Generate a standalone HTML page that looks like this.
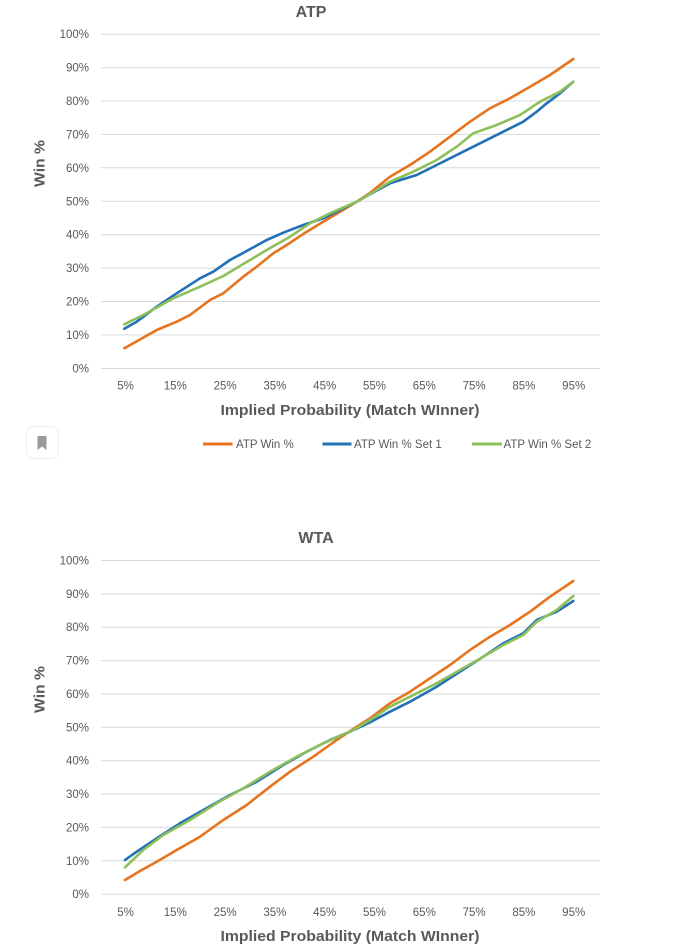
<!DOCTYPE html>
<html>
<head>
<meta charset="utf-8">
<style>
  html,body{margin:0;padding:0;background:#fff;}
  svg{display:block;}
  text{font-family:"Liberation Sans",sans-serif;fill:#595959;}
  .yl{font-size:11.5px;text-anchor:end;}
  .xl{font-size:11.5px;text-anchor:middle;}
  .tt{font-size:16px;font-weight:bold;text-anchor:middle;}
  .at{font-size:15px;font-weight:bold;text-anchor:middle;}
  .lg{font-size:11.5px;}
  .g{stroke:#d9d9d9;stroke-width:1;}
  .s{fill:none;stroke-width:2.6;stroke-linejoin:round;stroke-linecap:round;}
  .o{stroke:#e8731f;}
  .b{stroke:#2270b8;}
  .gr{stroke:#8dc05a;}
</style>
</head>
<body>
<svg width="676" height="952" viewBox="0 0 676 952" xmlns="http://www.w3.org/2000/svg">
  <!-- ===== ATP chart ===== -->
  <text class="tt" x="311" y="17">ATP</text>
  <g>
    <line class="g" x1="101" y1="34.2" x2="600" y2="34.2"/>
    <line class="g" x1="101" y1="67.6" x2="600" y2="67.6"/>
    <line class="g" x1="101" y1="101.0" x2="600" y2="101.0"/>
    <line class="g" x1="101" y1="134.4" x2="600" y2="134.4"/>
    <line class="g" x1="101" y1="167.8" x2="600" y2="167.8"/>
    <line class="g" x1="101" y1="201.3" x2="600" y2="201.3"/>
    <line class="g" x1="101" y1="234.7" x2="600" y2="234.7"/>
    <line class="g" x1="101" y1="268.1" x2="600" y2="268.1"/>
    <line class="g" x1="101" y1="301.5" x2="600" y2="301.5"/>
    <line class="g" x1="101" y1="334.9" x2="600" y2="334.9"/>
    <line class="g" x1="101" y1="368.5" x2="600" y2="368.5"/>
  </g>
  <g>
    <text class="yl" x="89" y="38.2">100%</text>
    <text class="yl" x="89" y="71.6">90%</text>
    <text class="yl" x="89" y="105.0">80%</text>
    <text class="yl" x="89" y="138.4">70%</text>
    <text class="yl" x="89" y="171.8">60%</text>
    <text class="yl" x="89" y="205.3">50%</text>
    <text class="yl" x="89" y="238.7">40%</text>
    <text class="yl" x="89" y="272.1">30%</text>
    <text class="yl" x="89" y="305.5">20%</text>
    <text class="yl" x="89" y="338.9">10%</text>
    <text class="yl" x="89" y="372.5">0%</text>
  </g>
  <g>
    <text class="xl" x="125.5" y="389.5">5%</text>
    <text class="xl" x="175.3" y="389.5">15%</text>
    <text class="xl" x="225.1" y="389.5">25%</text>
    <text class="xl" x="274.9" y="389.5">35%</text>
    <text class="xl" x="324.7" y="389.5">45%</text>
    <text class="xl" x="374.5" y="389.5">55%</text>
    <text class="xl" x="424.3" y="389.5">65%</text>
    <text class="xl" x="474.1" y="389.5">75%</text>
    <text class="xl" x="523.9" y="389.5">85%</text>
    <text class="xl" x="573.7" y="389.5">95%</text>
  </g>
  <text class="at" x="350" y="415" textLength="259" lengthAdjust="spacingAndGlyphs">Implied Probability (Match WInner)</text>
  <text class="at" transform="translate(44.5,163.5) rotate(-90)" x="0" y="0" textLength="47" lengthAdjust="spacingAndGlyphs">Win %</text>

  <polyline class="s o" points="124.3,348.3 140,339.5 156.7,330 176.7,321.7 190,315 210,300 223.3,293.3 243.3,276.7 256.7,266.7 273.3,253.3 286.7,245 306.7,231.7 323.3,221.7 340,211.7 356.7,201.7 370,193 390,176.7 410,165 430,151.7 450,136.7 470,121.7 490,108.3 510,98.3 530,86.7 550,75 573.3,59"/>
  <polyline class="s b" points="124.3,328.7 136.7,321.7 156.7,306.7 176.7,293.3 200,278.3 213.3,271.7 230,260 246.7,251 266.7,240 283.3,232.7 303.3,225 323.3,218.3 343.3,208.3 356.7,201.7 370,194.3 390,183.3 416.7,175 436.7,165 460,153.3 483.3,141.7 503.3,131.7 523.3,121.7 536.7,111.7 546.7,103.3 560,93.3 573.3,81.7"/>
  <polyline class="s gr" points="124.3,324.3 143.3,315 173.3,298.3 200,286.7 223.3,276 243.3,264 266.7,250 290,236.7 310,223.3 330,213.3 356.7,201.7 370,194 390,181.7 413.3,171.7 436.7,160 456.7,146.7 473.3,133.3 496.7,125 520,115 540,101.7 560,91.7 573.3,81.7"/>

  <!-- legend -->
  <line x1="203" y1="444" x2="232.5" y2="444" stroke="#e8731f" stroke-width="3"/>
  <text class="lg" x="236" y="448">ATP Win %</text>
  <line x1="322.5" y1="444" x2="351.5" y2="444" stroke="#2270b8" stroke-width="3"/>
  <text class="lg" x="354" y="448">ATP Win % Set 1</text>
  <line x1="472" y1="444" x2="502" y2="444" stroke="#8dc05a" stroke-width="3"/>
  <text class="lg" x="503.5" y="448">ATP Win % Set 2</text>

  <!-- bookmark button -->
  <rect x="26.5" y="426.5" width="32" height="32" rx="7" ry="7" fill="#fff" stroke="#ececec" stroke-width="1"/>
  <path d="M37.5,436 L46.5,436 L46.5,450 L42,446.5 L37.5,450 Z" fill="#9b9b9b"/>

  <!-- ===== WTA chart ===== -->
  <text class="tt" x="316" y="543">WTA</text>
  <g>
    <line class="g" x1="101" y1="560.5" x2="600" y2="560.5"/>
    <line class="g" x1="101" y1="593.9" x2="600" y2="593.9"/>
    <line class="g" x1="101" y1="627.2" x2="600" y2="627.2"/>
    <line class="g" x1="101" y1="660.6" x2="600" y2="660.6"/>
    <line class="g" x1="101" y1="694.0" x2="600" y2="694.0"/>
    <line class="g" x1="101" y1="727.3" x2="600" y2="727.3"/>
    <line class="g" x1="101" y1="760.7" x2="600" y2="760.7"/>
    <line class="g" x1="101" y1="794.1" x2="600" y2="794.1"/>
    <line class="g" x1="101" y1="827.4" x2="600" y2="827.4"/>
    <line class="g" x1="101" y1="860.8" x2="600" y2="860.8"/>
    <line class="g" x1="101" y1="894.2" x2="600" y2="894.2"/>
  </g>
  <g>
    <text class="yl" x="89" y="564.5">100%</text>
    <text class="yl" x="89" y="597.9">90%</text>
    <text class="yl" x="89" y="631.2">80%</text>
    <text class="yl" x="89" y="664.6">70%</text>
    <text class="yl" x="89" y="698.0">60%</text>
    <text class="yl" x="89" y="731.3">50%</text>
    <text class="yl" x="89" y="764.7">40%</text>
    <text class="yl" x="89" y="798.1">30%</text>
    <text class="yl" x="89" y="831.4">20%</text>
    <text class="yl" x="89" y="864.8">10%</text>
    <text class="yl" x="89" y="898.2">0%</text>
  </g>
  <g>
    <text class="xl" x="125.5" y="916">5%</text>
    <text class="xl" x="175.3" y="916">15%</text>
    <text class="xl" x="225.1" y="916">25%</text>
    <text class="xl" x="274.9" y="916">35%</text>
    <text class="xl" x="324.7" y="916">45%</text>
    <text class="xl" x="374.5" y="916">55%</text>
    <text class="xl" x="424.3" y="916">65%</text>
    <text class="xl" x="474.1" y="916">75%</text>
    <text class="xl" x="523.9" y="916">85%</text>
    <text class="xl" x="573.7" y="916">95%</text>
  </g>
  <text class="at" x="350" y="941" textLength="259" lengthAdjust="spacingAndGlyphs">Implied Probability (Match WInner)</text>
  <text class="at" transform="translate(44.5,689.5) rotate(-90)" x="0" y="0" textLength="47" lengthAdjust="spacingAndGlyphs">Win %</text>

  <polyline class="s o" points="125,880 140,871 156.7,861.7 176.7,850 200,836.7 223.3,820 246.7,805 270,786.7 290,771.7 313.3,756.7 336.7,740 356.7,726.7 370,718.3 390,703.3 410,691.7 430,678.3 450,665 470,650 490,636.7 510,625 530,611.7 550,596.7 573.3,581"/>
  <polyline class="s b" points="125,860 136.7,851.7 156.7,838.3 180,823.3 203.3,810 230,795 256.7,781.7 283.3,765 306.7,751.7 330,740 350,731.7 370,722.3 390,711.7 410,701.7 436.7,686.7 460,671.7 483.3,656.7 503.3,643.3 523.3,633.3 536.7,620 556.7,611.7 573.3,601"/>
  <polyline class="s gr" points="125,867.3 143.3,850 163.3,835 190,820 216.7,803.3 243.3,788.3 270,771.7 296.7,756.7 323.3,743.3 353.3,730 370,720 390,706.7 416.7,693.3 436.7,683.3 460,670 483.3,656.7 503.3,645 523.3,635 536.7,621.7 556.7,610 573.3,596"/>
</svg>
</body>
</html>
